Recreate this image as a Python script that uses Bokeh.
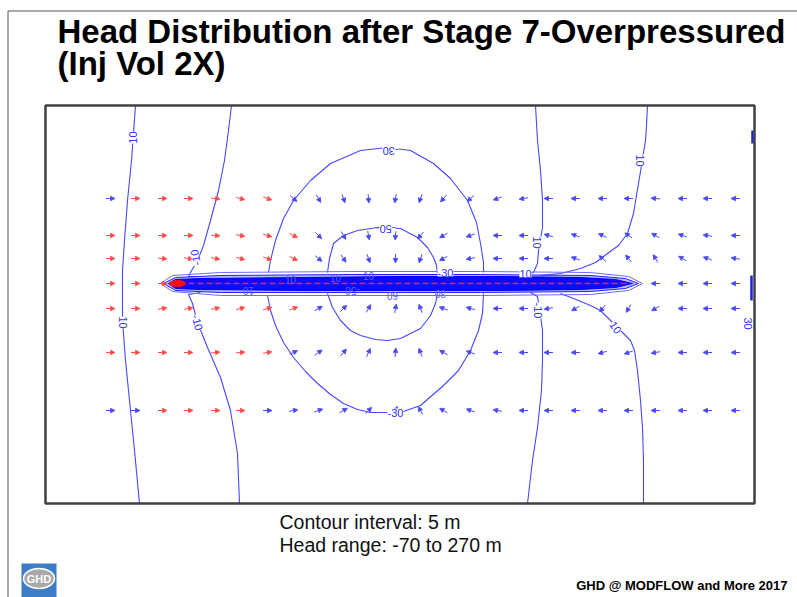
import numpy as np
from bokeh.plotting import figure
from bokeh.models import Range1d, ColumnDataSource, LabelSet, Arrow, NormalHead
from bokeh.core.properties import value
from bokeh.embed import file_html
from bokeh.resources import INLINE

# ---------------- data (model grid units: x to the right, y up; domain 709 x 398) -------------
domain_w, domain_h = 709, 398

# contour lines (head, m)
c10_left_x = [90, 86, 82, 79, 77, 77, 77, 80, 84, 89, 94]
c10_left_y = [398, 343, 303, 263, 233, 203, 183, 143, 103, 53, 0]
cm10_left_top_x = [186, 183, 179, 173, 165, 158, 152, 145, 143, 150]
cm10_left_top_y = [398, 373, 343, 313, 283, 258, 243, 231, 227, 227]
cm10_left_bot_x = [155, 143, 147, 152, 162, 175, 185, 192, 194]
cm10_left_bot_y = [211, 209, 200, 181, 156, 126, 93, 50, 0]
cm30_top_x = [223, 225, 230, 238, 248, 265, 285, 315, 342, 365, 388, 405, 422, 431, 435, 438, 438]
cm30_top_y = [231, 243, 263, 285, 303, 323, 340, 353, 356, 353, 340, 325, 303, 281, 260, 241, 231]
cm30_bot_x = [222, 225, 230, 238, 248, 260, 272, 285, 298, 312, 325, 355, 375, 398, 413, 425, 433, 437, 438]
cm30_bot_y = [208, 193, 178, 161, 146, 132, 120, 109, 100, 94, 91, 91, 98, 118, 133, 153, 173, 190, 210]
cm50_top_x = [282, 284, 288, 298, 312, 332, 355, 372, 382, 388, 391, 392]
cm50_top_y = [231, 245, 260, 268, 273, 276, 275, 266, 256, 246, 238, 230]
cm50_bot_x = [282, 287, 295, 305, 315, 330, 342, 355, 375, 385, 390, 392]
cm50_bot_y = [210, 196, 183, 173, 168, 164, 163, 165, 175, 188, 200, 210]
c10_mid_top_x = [490, 492, 495, 497, 497, 493, 492, 488, 475]
c10_mid_top_y = [398, 363, 333, 303, 276, 253, 240, 231, 228]
c10_mid_bot_x = [485, 492, 495, 497, 497, 496, 492, 487, 482]
c10_mid_bot_y = [211, 207, 188, 173, 143, 113, 76, 43, 0]
c10_right_top_x = [602, 601, 600, 596, 593, 588, 582, 573, 562, 550, 535, 515, 495]
c10_right_top_y = [398, 378, 363, 338, 320, 290, 270, 258, 250, 241, 235, 230, 228]
c10_right_bot_x = [515, 528, 545, 555, 570, 585, 589, 592, 595, 597, 598, 598]
c10_right_bot_y = [210, 205, 198, 193, 178, 163, 153, 133, 103, 76, 43, 0]
c30_edge_x = [[706, 706], [707, 707]]
c30_edge_y = [[228, 203], [373, 360]]

# contour labels
lab_x = [87, 77, 150, 152, 345, 342, 350, 492, 480, 493, 595, 570, 400, 703]
lab_y = [366, 181, 246, 181, 353, 275, 91, 261, 230, 193, 343, 176, 231, 180]
lab_t = ["10", "10", "-10", "-10", "-30", "-50", "-30", "10", "10", "-10", "10", "10", "-30", "30"]
lab_a = [90, -90, 100, -75, 180, 180, 0, -90, 0, -90, -90, -55, 0, -90]

# labels crowded inside the fracture zone
band_lab_x = [203, 245, 290, 307, 323, 347, 395]
band_lab_y = [213, 224, 226, 213, 228, 208, 210]
band_lab_t = ["10", "10", "10", "-50", "10", "60", "30"]
band_lab_a = [180, 0, 0, 180, 0, 180, 180]

# fracture zone (dense contours around the injection fracture)
frac_outer2_x = [115, 127, 175, 305, 435, 545, 583, 597, 583, 545, 435, 305, 175, 127, 115]
frac_outer2_y = [220, 228, 231, 232, 232, 231, 227, 220, 213, 209, 208, 208, 208, 212, 220]
frac_outer1_x = [118, 130, 175, 305, 435, 545, 580, 593, 580, 545, 435, 305, 175, 130, 118]
frac_outer1_y = [220, 226, 228, 229, 229, 228, 225, 220, 215, 212, 211, 211, 211, 213, 220]
frac_core_x = [123, 130, 155, 255, 355, 455, 535, 570, 587, 570, 535, 455, 355, 255, 155, 130, 123]
frac_core_y = [220, 224, 225, 226, 227, 227, 226, 224, 220, 216, 214, 213, 213, 213, 214, 215, 220]
frac_line_x = [125, 585]
frac_line_y = [220, 220]

# flow vectors: grid columns and rows, direction (deg) and colour class per node
vec_cols = [65, 90, 117, 143, 170, 195, 222, 248, 273, 298, 323, 350, 375, 398, 425,
            452, 478, 503, 530, 557, 583, 610, 637, 662, 690]
vec_rows = [305, 268, 245, 195, 151, 93]
vec_dir = [
    [0, 0, 0, 0, -5, -15, -20, -40, -60, -70, -85, -100, -110, -130, -140, -160, -170, 180, 180, 180, 180, 175, 180, 180, 180],
    [0, 0, 0, 0, -5, -10, -15, -25, -45, -60, -80, -95, -130, -150, -160, 180, 180, 165, 160, 155, 145, 150, 160, 170, 180],
    [0, 0, -5, -10, -10, -15, -20, -25, -40, -55, -70, -90, -110, -150, -170, 180, 180, 180, 160, 140, 130, 120, 150, 160, 170],
    [0, 0, 10, 10, 10, 15, 15, 20, 30, 45, 60, 80, 110, 160, 165, 180, 180, -170, -150, -130, -120, -150, 180, 180, 180],
    [0, 0, 0, 0, 5, 5, 10, 25, 35, 50, 65, 85, 110, 150, 160, 180, 180, 180, 180, -165, -160, -170, 180, 180, 180],
    [0, 0, 0, 0, 0, 0, 0, 10, 20, 30, 45, 65, 120, 150, 160, 170, 180, 180, 180, 180, 180, 180, 180, 180, 180],
]
vec_cls = [
    "brrrrrrbbbbbbbbbbbbbbbbbb",
    "rrrrrrrrbbbbbbbbbbbbbbbbb",
    "rrrrrrrrbbbbbbbbbbbbbbbbb",
    "rrrrrrrrbbbbbbbbbbbbbbbbb",
    "rrrrrrrbbbbbbbbbbbbbbbbbb",
    "bbrrrrbbbbbbbbbbbbbbbbbbb",
]
# vectors on the fracture row (others hidden by the fracture)
frac_row_y = 220
frac_vec_x = [65, 90, 117, 610, 637, 662, 690]
frac_vec_dir = [0, 0, 0, 180, 180, 180, 180]
frac_vec_cls = "rrrbbbb"

title_1 = "Head Distribution after Stage 7-Overpressured"
title_2 = "(Inj Vol 2X)"
note_1 = "Contour interval: 5 m"
note_2 = "Head range: -70 to 270 m"
footer = "GHD @ MODFLOW and More 2017"

# ---------------- figure ----------------
FONT = "Liberation Sans"
LINE_BLUE = "#4646ff"
PW, PH = 797, 597
p = figure(width=PW, height=PH, x_range=Range1d(0, PW), y_range=Range1d(PH, 0),
           output_backend="svg", toolbar_location=None, min_border=0,
           x_axis_location=None, y_axis_location=None, outline_line_color=None)
p.grid.visible = False
# map box occupies page x 45..754, y 105..503
p.extra_x_ranges = {"mx": Range1d(-45, PW - 45)}
p.extra_y_ranges = {"my": Range1d(503 - PH, 503)}
M = dict(x_range_name="mx", y_range_name="my")

# slide frame lines
p.line([7.5, 7.5], [PH, 10.5], line_color="#555555", line_width=1)
p.line([7.5, PW], [10.5, 10.5], line_color="#555555", line_width=1)

# contour lines
xs = [c10_left_x, cm10_left_top_x, cm10_left_bot_x, cm30_top_x, cm30_bot_x, cm50_top_x, cm50_bot_x,
      c10_mid_top_x, c10_mid_bot_x, c10_right_top_x, c10_right_bot_x]
ys = [c10_left_y, cm10_left_top_y, cm10_left_bot_y, cm30_top_y, cm30_bot_y, cm50_top_y, cm50_bot_y,
      c10_mid_top_y, c10_mid_bot_y, c10_right_top_y, c10_right_bot_y]
p.multi_line(xs, ys, line_color=LINE_BLUE, line_width=1.1, **M)
p.multi_line(c30_edge_x, c30_edge_y, line_color="#2020e0", line_width=2.5, **M)

# flow vectors
def vec_source(xv, yv, dv, cls, key):
    xv = np.asarray(xv, float); yv = np.asarray(yv, float)
    th = np.deg2rad(np.asarray(dv, float))
    sel = np.array([c == key for c in cls])
    h = 4.5
    return ColumnDataSource(dict(x0=(xv - h * np.cos(th))[sel], y0=(yv - h * np.sin(th))[sel],
                                 x1=(xv + h * np.cos(th))[sel], y1=(yv + h * np.sin(th))[sel]))

all_x, all_y, all_d, all_c = [], [], [], ""
for ry, dirs, cls in zip(vec_rows, vec_dir, vec_cls):
    all_x += vec_cols; all_y += [ry] * len(vec_cols); all_d += dirs; all_c += cls
all_x += frac_vec_x; all_y += [frac_row_y] * len(frac_vec_x); all_d += frac_vec_dir; all_c += frac_vec_cls

for key, col in (("r", "#ff4a4a"), ("b", "#4848f0")):
    src = vec_source(all_x, all_y, all_d, all_c, key)
    p.add_layout(Arrow(end=NormalHead(size=4.5, fill_color=col, line_color=col, line_width=0.8),
                       x_start="x0", y_start="y0", x_end="x1", y_end="y1", source=src,
                       line_color=col, line_width=1, **M))

# fracture zone
p.patch(frac_outer2_x, frac_outer2_y, fill_color=None, line_color="#6a6aff", line_width=1, **M)
p.patch(frac_outer1_x, frac_outer1_y, fill_color="#3030ff", fill_alpha=0.35, line_color="#2020ff", line_width=1, **M)
p.patch(frac_core_x, frac_core_y, fill_color="#0a0aff", line_color="#0000ee", line_width=1, **M)
p.line(frac_line_x, frac_line_y, line_color="#ff2020", line_width=1.6, line_dash="6 3", **M)
p.ellipse([frac_line_x[0] + 7], [frac_line_y[0]], width=16, height=6, fill_color="#ff1010",
          line_color="#ff1010", **M)

# contour labels
lsrc = ColumnDataSource(dict(x=lab_x, y=lab_y, t=lab_t, a=lab_a))
p.add_layout(LabelSet(x="x", y="y", text="t", angle="a", angle_units="deg", source=lsrc,
                      text_font=value(FONT), text_font_size="11px", text_color="#3030ff",
                      text_align="center", text_baseline="middle",
                      background_fill_color="white", **M))
p.text(band_lab_x, band_lab_y, text=band_lab_t, angle=band_lab_a, angle_units="deg",
       text_font=value(FONT), text_font_size="10px", text_color="#5a5aff",
       text_align="center", text_baseline="middle", **M)

# map box
p.quad(left=[0], right=[domain_w], bottom=[0], top=[domain_h], fill_color=None,
       line_color="#404040", line_width=2.5, **M)

# titles and notes (page coordinates)
p.text([57], [31], text=[title_1], text_font=value(FONT), text_font_style="bold",
       text_font_size="33px", text_color="black", text_baseline="alphabetic")
p.text([57], [63], text=[title_2], text_font=value(FONT), text_font_style="bold",
       text_font_size="33px", text_color="black", text_baseline="alphabetic")
p.text([279], [521], text=[note_1], text_font=value(FONT), text_font_size="19.5px",
       text_color="#111111", text_baseline="alphabetic")
p.text([279], [544], text=[note_2], text_font=value(FONT), text_font_size="19.5px",
       text_color="#111111", text_baseline="alphabetic")
p.text([787], [585], text=[footer], text_font=value(FONT), text_font_style="bold",
       text_font_size="13px", text_color="black", text_align="right", text_baseline="alphabetic")

# logo
p.quad(left=[21], right=[56], top=[563], bottom=[PH], fill_color="#3d7cc6", line_color=None)
p.ellipse([38.5], [578], width=31, height=20, fill_color="#a9a9a9", line_color="white", line_width=1.5)
p.text([38.5], [578.5], text=["GHD"], text_font=value(FONT), text_font_style="bold",
       text_font_size="11px", text_color="white", text_align="center", text_baseline="middle")

open("out.html", "w").write(file_html(p, INLINE))
